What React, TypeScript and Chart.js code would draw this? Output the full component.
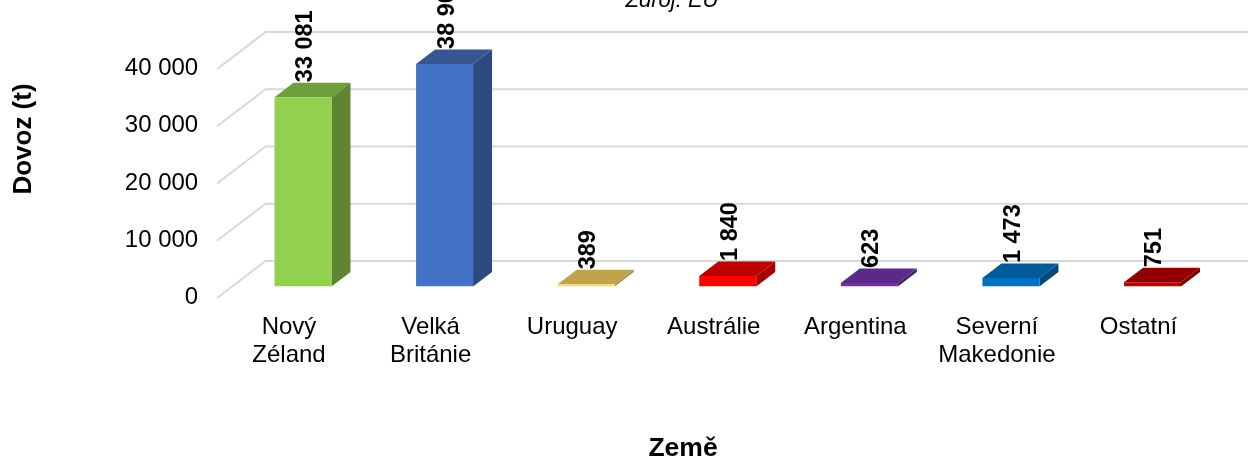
import React, { useEffect, useRef } from "react";
import { Chart, registerables } from "chart.js";

Chart.register(...registerables);

const categories = [
  ["Nový", "Zéland"],
  ["Velká", "Británie"],
  ["Uruguay"],
  ["Austrálie"],
  ["Argentina"],
  ["Severní", "Makedonie"],
  ["Ostatní"],
];
const imports = [33081, 38900, 389, 1840, 623, 1473, 751];
const frontColors = ["#92D050", "#4472C4", "#FFD966", "#FF0000", "#7030A0", "#0070C0", "#C00000"];
const sideColors = ["#5F8532", "#2B4A80", "#A68D42", "#A60000", "#492068", "#00497D", "#7D0000"];
const topColors = ["#6F9E3C", "#355691", "#BFA34D", "#BF0000", "#5A2A8A", "#005A9A", "#900000"];
const yTitle = "Dovoz (t)";
const xTitle = "Země";
const sourceNote = "Zdroj: EU";

const FONT = '"Liberation Sans", Arial, sans-serif';
const DEPTH_X = 19;
const DEPTH_Y = 14.5;
const fmt = (v: number) => String(v).replace(/\B(?=(\d{3})+$)/g, " ");

const scene3d = {
  id: "scene3d",
  beforeDatasetsDraw(chart: any) {
    const { ctx, scales, width } = chart;
    const y = scales.y;
    ctx.save();
    ctx.strokeStyle = "#D9D9D9";
    ctx.lineWidth = 2;
    for (const t of y.ticks) {
      const p = y.getPixelForValue(t.value);
      ctx.beginPath();
      ctx.moveTo(217, p + 11.5);
      ctx.lineTo(265.5, p - 25.5);
      ctx.lineTo(width, p - 25.5);
      ctx.stroke();
    }
    const meta = chart.getDatasetMeta(0);
    meta.data.forEach((bar: any, i: number) => {
      const l = bar.x - bar.width / 2;
      const r = bar.x + bar.width / 2;
      const top = bar.y;
      const base = bar.base;
      ctx.fillStyle = sideColors[i];
      ctx.beginPath();
      ctx.moveTo(r, top);
      ctx.lineTo(r + DEPTH_X, top - DEPTH_Y);
      ctx.lineTo(r + DEPTH_X, base - DEPTH_Y);
      ctx.lineTo(r, base);
      ctx.closePath();
      ctx.fill();
      ctx.fillStyle = topColors[i];
      ctx.beginPath();
      ctx.moveTo(l, top);
      ctx.lineTo(l + DEPTH_X, top - DEPTH_Y);
      ctx.lineTo(r + DEPTH_X, top - DEPTH_Y);
      ctx.lineTo(r, top);
      ctx.closePath();
      ctx.fill();
    });
    ctx.restore();
  },
  afterDatasetsDraw(chart: any) {
    const { ctx } = chart;
    const meta = chart.getDatasetMeta(0);
    ctx.save();
    ctx.fillStyle = "#000";
    ctx.font = `bold 23.5px ${FONT}`;
    ctx.textAlign = "left";
    ctx.textBaseline = "middle";
    meta.data.forEach((bar: any, i: number) => {
      ctx.save();
      ctx.translate(bar.x + 2.5, bar.y - DEPTH_Y - 0.5);
      ctx.rotate(-Math.PI / 2);
      ctx.fillText(fmt(imports[i]), 0, 0);
      ctx.restore();
    });
    ctx.font = `bold 26px ${FONT}`;
    ctx.textAlign = "center";
    ctx.textBaseline = "middle";
    ctx.save();
    ctx.translate(24, 139);
    ctx.rotate(-Math.PI / 2);
    ctx.fillText(yTitle, 0, 0);
    ctx.restore();
    ctx.font = `bold 26.5px ${FONT}`;
    ctx.fillText(xTitle, 683, 449);
    ctx.font = `italic 22px ${FONT}`;
    ctx.textBaseline = "alphabetic";
    ctx.fillText(sourceNote, 672, 7);
    ctx.restore();
  },
};

export default function App() {
  const ref = useRef<HTMLCanvasElement>(null);
  useEffect(() => {
    const chart = new Chart(ref.current!, {
      type: "bar",
      data: {
        labels: categories,
        datasets: [
          {
            data: imports,
            backgroundColor: frontColors,
            barPercentage: 0.4025,
            categoryPercentage: 1,
          },
        ],
      },
      plugins: [scene3d],
      options: {
        responsive: false,
        animation: false,
        layout: { padding: { top: 57.6, left: 0, right: 24.7, bottom: 0 } },
        plugins: { legend: { display: false }, tooltip: { enabled: false } },
        scales: {
          x: {
            grid: { display: false, drawTicks: false },
            border: { display: false },
            afterFit: (s: any) => {
              s.height = 172.5;
            },
            ticks: {
              color: "#000",
              font: { family: FONT, size: 24, lineHeight: 1.17 },
              padding: 27,
              labelOffset: -14,
              maxRotation: 0,
              minRotation: 0,
              autoSkip: false,
            },
          },
          y: {
            min: 0,
            max: 40000,
            grid: { display: false, drawTicks: false },
            border: { display: false },
            afterFit: (s: any) => {
              s.width = 232.2;
            },
            ticks: {
              stepSize: 10000,
              color: "#000",
              font: { family: FONT, size: 24 },
              padding: 34,
              labelOffset: 11,
              callback: (v: any) => fmt(Number(v)),
            },
          },
        },
      },
    });
    return () => chart.destroy();
  }, []);
  return (
    <div style={{ position: "fixed", left: 0, top: 0, width: 1248, height: 459, background: "#fff" }}>
      <canvas ref={ref} width={1248} height={459} style={{ display: "block" }} />
    </div>
  );
}
